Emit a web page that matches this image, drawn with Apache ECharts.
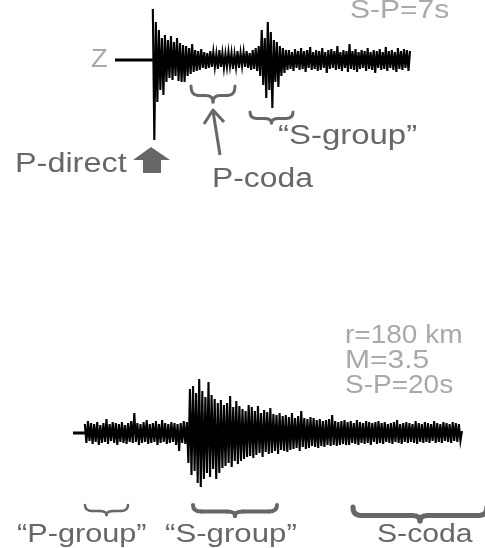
<!DOCTYPE html>
<html><head><meta charset="utf-8">
<script src="https://cdn.jsdelivr.net/npm/echarts@6/dist/echarts.min.js"></script>
<style>html,body{margin:0;padding:0;background:#fff}#c{width:485px;height:548px}</style>
</head><body><div id="c"></div>
<script>
// Top trace: r small, S-P = 7 s. Time in seconds, amplitude in relative units.
const topLeadIn = [[-2.5, 0], [0, 0]];
const topDt = 0.1;
const topValues = [
  51,-80, 38,-42, 30,-30, 22,-35, 25,-22,
  20,-18, 24,-20, 18,-16, 22,-21, 17,-22,
  15,-22, 14,-16, 12,-14, 16,-12, 10,-11,
  9,-10, 11,-8, 8,-9, 7,-8, 9,-7,
  8,-7, 6,-9, 10,-7, 7,-8, 6,-7,
  8,-6, 7,-9, 6,-7, 9,-8, 7,-6,
  8,-7, 9,-8, 7,-10, 10,-9, 12,-11,
  14,-16, 30,-25, 22,-38, 38,-30, 28,-48,
  20,-22, 18,-27, 14,-16, 12,-13, 10,-10,
  10,-9, 8,-11, 11,-8, 9,-10, 12,-9,
  9,-12, 10,-8, 13,-10, 8,-9, 10,-11,
  9,-10, 12,-8, 8,-13, 10,-9, 11,-8,
  9,-10, 14,-9, 8,-11, 10,-8, 9,-12,
  16,-9, 9,-10, 11,-12, 8,-9, 10,-8,
  9,-11, 12,-9, 8,-10, 10,-13, 9,-8,
  11,-10, 8,-9, 13,-11, 9,-8, 10,-10,
  8,-12, 12,-9, 9,-10, 11,-8, 10,-11,
  9
];
// Bottom trace: r = 180 km, M = 3.5, S-P = 20 s
const botLeadIn = [[-2.3, 0], [0, 0]];
const botDt = 0.3;
const botValues = [
  9,-10, 12,-8, 10,-11, 9,-9, 11,-12,
  8,-10, 10,-9, 14,-11, 9,-8, 11,-10,
  10,-12, 9,-9, 11,-10, 8,-11, 10,-9,
  12,-10, 20,-9, 10,-12, 9,-10, 11,-9,
  13,-11, 9,-10, 10,-9, 12,-12, 9,-10,
  13,-9, 10,-11, 9,-10, 11,-9, 10,-12,
  9,-18, 10,-10, 12,-11, 11,-30, 44,-42,
  47,-38, 40,-50, 54,-54, 42,-46, 36,-40,
  51,-44, 38,-36, 34,-46, 30,-40, 33,-35,
  28,-33, 30,-30, 37,-34, 26,-28, 32,-31,
  27,-28, 24,-26, 22,-24, 28,-23, 26,-25,
  22,-22, 27,-20, 20,-24, 23,-19, 21,-21,
  25,-20, 19,-18, 18,-21, 20,-17, 17,-18,
  18,-19, 16,-17, 20,-16, 15,-15, 17,-18,
  22,-14, 15,-16, 14,-15, 16,-13, 15,-14,
  13,-15, 14,-13, 12,-14, 13,-12, 14,-13,
  18,-12, 12,-13, 11,-12, 12,-11, 13,-12,
  11,-12, 12,-10, 10,-11, 13,-12, 11,-10,
  10,-11, 12,-10, 11,-12, 10,-9, 11,-11,
  12,-10, 10,-11, 11,-9, 9,-10, 10,-11,
  11,-9, 13,-10, 9,-11, 10,-9, 11,-10,
  10,-9, 9,-10, 12,-11, 10,-9, 9,-10,
  11,-9, 10,-10, 9,-8, 12,-10, 10,-9,
  9,-10, 11,-8, 10,-9, 9,-10, 11,-8,
  10,-9, 9,-8, 2
];

function build(dt, vals) {
  return vals.map((v, i) => [i * dt, v]);
}

const FONT = '"Liberation Sans", Arial, sans-serif';
const DARK = '#676767', LIGHT = '#a9a9a9';
function txt(s, x, y, size, color, sx) {
  return { type: 'text', x: x, y: y, scaleX: sx, silent: true,
    style: { text: s, fill: color, font: size + 'px ' + FONT,
      align: 'left', textAlign: 'left', verticalAlign: 'middle', textVerticalAlign: 'middle' } };
}
function curve(x1, y1, cx, cy, x2, y2, lw) {
  return { type: 'bezierCurve', silent: true,
    shape: { x1: x1, y1: y1, cpx1: cx, cpy1: cy, x2: x2, y2: y2 },
    style: { stroke: DARK, lineWidth: lw, fill: null, lineCap: 'round' } };
}
function seg(x1, y1, x2, y2, lw) {
  return { type: 'line', silent: true, shape: { x1: x1, y1: y1, x2: x2, y2: y2 },
    style: { stroke: DARK, lineWidth: lw, lineCap: 'round' } };
}
function brace(x0, x1, y0, h, lw) {
  const ym = y0 + h * 0.6, yb = y0 + h, xc = (x0 + x1) / 2, r = Math.min(8, (x1 - x0) / 6);
  return { type: 'group', silent: true, children: [
    curve(x0, y0, x0, ym, x0 + r, ym, lw),
    seg(x0 + r, ym, xc - r, ym, lw),
    curve(xc - r, ym, xc, ym, xc, yb, lw),
    curve(xc, yb, xc, ym, xc + r, ym, lw),
    seg(xc + r, ym, x1 - r, ym, lw),
    curve(x1 - r, ym, x1, ym, x1, y0, lw)
  ] };
}

const traceLine = { color: '#000', width: 2.1, join: 'miter' };
const leadLine = { color: '#000', width: 3 };
const chart = echarts.init(document.getElementById('c'), null, { renderer: 'canvas' });
chart.setOption({
  animation: false,
  grid: [
    { left: 115, width: 295, top: 0, height: 150 },
    { left: 73, width: 390, top: 373, height: 120 }
  ],
  xAxis: [
    { type: 'value', gridIndex: 0, min: -2.5, max: 17.0, show: false },
    { type: 'value', gridIndex: 1, min: -2.3, max: 73.4, show: false }
  ],
  yAxis: [
    { type: 'value', gridIndex: 0, min: -90, max: 60, show: false },
    { type: 'value', gridIndex: 1, min: -60, max: 60, show: false }
  ],
  series: [
    { type: 'line', xAxisIndex: 0, yAxisIndex: 0, data: topLeadIn,
      showSymbol: false, lineStyle: leadLine, silent: true },
    { type: 'line', xAxisIndex: 0, yAxisIndex: 0, data: build(topDt, topValues),
      showSymbol: false, lineStyle: traceLine, silent: true },
    { type: 'line', xAxisIndex: 1, yAxisIndex: 1, data: botLeadIn,
      showSymbol: false, lineStyle: leadLine, silent: true },
    { type: 'line', xAxisIndex: 1, yAxisIndex: 1, data: build(botDt, botValues),
      showSymbol: false, lineStyle: traceLine, silent: true }
  ],
  graphic: [
    txt('Z', 91, 60, 26, LIGHT, 1.05),
    txt('S-P=7s', 350, 11, 25, LIGHT, 1.2),
    txt('P-direct', 15, 165, 27, DARK, 1.2),
    txt('P-coda', 212, 180, 27, DARK, 1.18),
    txt('\u201cS-group\u201d', 278, 137, 27, DARK, 1.22),
    txt('r=180 km', 345, 336, 25, LIGHT, 1.12),
    txt('M=3.5', 345, 361, 25, LIGHT, 1.2),
    txt('S-P=20s', 345, 386, 25, LIGHT, 1.12),
    txt('\u201cP-group\u201d', 17, 535, 26, DARK, 1.18),
    txt('\u201cS-group\u201d', 165, 535, 26, DARK, 1.2),
    txt('S-coda', 377, 535, 26, DARK, 1.16),
    brace(191, 235, 86, 16, 3),
    brace(250, 293, 112, 11, 3),
    brace(85, 128, 505, 10, 2.5),
    brace(193, 277, 505, 11, 4),
    brace(353, 487, 507, 14, 5),
    { type: 'polygon', silent: true,
      shape: { points: [[133,160],[151,147],[170,160],[161,160],[161,173],[143,173],[143,160]] },
      style: { fill: DARK } },
    { type: 'polyline', silent: true, shape: { points: [[220,155],[213,111]] },
      style: { stroke: DARK, lineWidth: 3, fill: null } },
    { type: 'polyline', silent: true, shape: { points: [[204,124],[213,110],[224,122]] },
      style: { stroke: DARK, lineWidth: 3, fill: null, lineJoin: 'round' } }
  ]
});
</script></body></html>
